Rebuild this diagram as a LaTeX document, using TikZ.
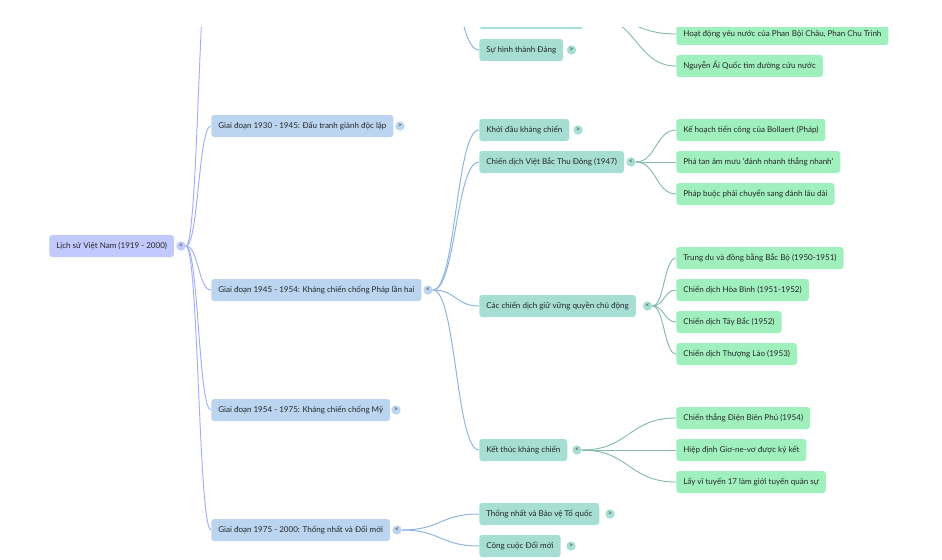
\documentclass[tikz,border=0pt]{standalone}
\usepackage{fontspec}
\setmainfont{Lato}
\usetikzlibrary{calc}

\definecolor{rootfill}{HTML}{C1C9FD}
\definecolor{periodfill}{HTML}{BBD4F0}
\definecolor{eventfill}{HTML}{A6DED3}
\definecolor{leaffill}{HTML}{A0F0BE}
\definecolor{rootline}{HTML}{A3ACFA}
\definecolor{periodline}{HTML}{8FB5E0}
\definecolor{eventline}{HTML}{84BBAB}

% curve leaving and arriving level, control points half way across
\newcommand{\branch}[3]{%
  \draw[#1] (#2) .. controls ($(#2)!0.5!(#2 -| #3)$) and ($(#2 |- #3)!0.5!(#3)$) .. (#3);
}

\begin{document}
\begin{tikzpicture}[
    x=0.75pt, y=-0.75pt,
    box/.style={rectangle, rounded corners=2.2pt, anchor=west, minimum height=16.5pt, inner xsep=5.25pt, inner ysep=0pt, font=\fontsize{6.02}{8}\selectfont, text=black!85},
    rootbox/.style={box, fill=rootfill},
    period/.style={box, fill=periodfill},
    event/.style={box, fill=eventfill},
    leaf/.style={box, fill=leaffill},
    toggle/.style={circle, minimum size=7pt, inner sep=0pt, font=\fontsize{5}{5}\selectfont, text=black!80},
    rootlink/.style={rootline, line width=0.7pt},
    periodlink/.style={periodline, line width=0.75pt},
    eventlink/.style={eventline, line width=0.7pt}
    ]
    \useasboundingbox (0,0) rectangle (942,560);
    \clip (0,28) rectangle (942,560);

    % Root
    \node[rootbox] (root) at (49,246) {Lịch sử Việt Nam (1919 - 2000)};
    \node[toggle, fill=rootfill] (rootT) at (181,246) {<};

    % Periods
    \coordinate (periodTop) at (211,-60);
    \node[period] (p30) at (211,126) {Giai đoạn 1930 - 1945: Đấu tranh giành độc lập};
    \node[toggle, fill=periodfill] (p30T) at (400,126) {>};
    \node[period] (p45) at (211,290) {Giai đoạn 1945 - 1954: Kháng chiến chống Pháp lần hai};
    \node[toggle, fill=periodfill] (p45T) at (428,290) {<};
    \node[period] (p54) at (211,410) {Giai đoạn 1954 - 1975: Kháng chiến chống Mỹ};
    \node[toggle, fill=periodfill] (p54T) at (396,410) {>};
    \node[period] (p75) at (211,530) {Giai đoạn 1975 - 2000: Thống nhất và Đổi mới};
    \node[toggle, fill=periodfill] (p75T) at (397,530) {<};

    \branch{rootlink}{rootT.east}{periodTop}
    \branch{rootlink}{rootT.east}{p30.west}
    \branch{rootlink}{rootT.east}{p45.west}
    \branch{rootlink}{rootT.east}{p54.west}
    \branch{rootlink}{rootT.east}{p75.west}

    % Events, cut off at the top
    \coordinate (eventTop) at (433,-70);
    \node[event, minimum width=78pt] (cut) at (479,18) {};
    \coordinate (cutT) at (597,18);
    \node[event] (dang) at (479,50) {Sự hình thành Đảng};
    \node[toggle, fill=eventfill] (dangT) at (571.5,50) {>};
    \branch{periodlink}{eventTop}{dang.west}

    % Events 1945 - 1954
    \node[event] (khoi) at (479,130) {Khởi đầu kháng chiến};
    \node[toggle, fill=eventfill] (khoiT) at (578,130) {>};
    \node[event] (vb) at (479,162) {Chiến dịch Việt Bắc Thu Đông (1947)};
    \node[toggle, fill=eventfill] (vbT) at (631,162) {<};
    \node[event] (cac) at (479,306) {Các chiến dịch giữ vững quyền chủ động};
    \node[toggle, fill=eventfill] (cacT) at (647.5,306) {<};
    \node[event] (ket) at (479,450) {Kết thúc kháng chiến};
    \node[toggle, fill=eventfill] (ketT) at (577,450) {<};

    \branch{periodlink}{p45T.east}{khoi.west}
    \branch{periodlink}{p45T.east}{vb.west}
    \branch{periodlink}{p45T.east}{cac.west}
    \branch{periodlink}{p45T.east}{ket.west}

    % Events 1975 - 2000
    \node[event] (thong) at (479,514) {Thống nhất và Bảo vệ Tổ quốc};
    \node[toggle, fill=eventfill] (thongT) at (610,514) {>};
    \node[event] (cong) at (479,546) {Công cuộc Đổi mới};
    \node[toggle, fill=eventfill] (congT) at (571,546) {>};

    \branch{periodlink}{p75T.east}{thong.west}
    \branch{periodlink}{p75T.east}{cong.west}

    % Leaves
    \node[leaf] (l1) at (676,34) {Hoạt động yêu nước của Phan Bội Châu, Phan Chu Trinh};
    \node[leaf] (l2) at (676,66) {Nguyễn Ái Quốc tìm đường cứu nước};
    \branch{eventlink}{cutT}{l1.west}
    \branch{eventlink}{cutT}{l2.west}

    \node[leaf] (l3) at (676,130) {Kế hoạch tiến công của Bollaert (Pháp)};
    \node[leaf] (l4) at (676,162) {Phá tan âm mưu 'đánh nhanh thắng nhanh'};
    \node[leaf] (l5) at (676,194) {Pháp buộc phải chuyển sang đánh lâu dài};
    \branch{eventlink}{vbT.east}{l3.west}
    \branch{eventlink}{vbT.east}{l4.west}
    \branch{eventlink}{vbT.east}{l5.west}

    \node[leaf] (l6) at (676,258) {Trung du và đồng bằng Bắc Bộ (1950-1951)};
    \node[leaf] (l7) at (676,290) {Chiến dịch Hòa Bình (1951-1952)};
    \node[leaf] (l8) at (676,322) {Chiến dịch Tây Bắc (1952)};
    \node[leaf] (l9) at (676,354) {Chiến dịch Thượng Lào (1953)};
    \branch{eventlink}{cacT.east}{l6.west}
    \branch{eventlink}{cacT.east}{l7.west}
    \branch{eventlink}{cacT.east}{l8.west}
    \branch{eventlink}{cacT.east}{l9.west}

    \node[leaf] (l10) at (676,418) {Chiến thắng Điện Biên Phủ (1954)};
    \node[leaf] (l11) at (676,450) {Hiệp định Giơ-ne-vơ được ký kết};
    \node[leaf] (l12) at (676,482) {Lấy vĩ tuyến 17 làm giới tuyến quân sự};
    \branch{eventlink}{ketT.east}{l10.west}
    \branch{eventlink}{ketT.east}{l11.west}
    \branch{eventlink}{ketT.east}{l12.west}
\end{tikzpicture}
\end{document}
